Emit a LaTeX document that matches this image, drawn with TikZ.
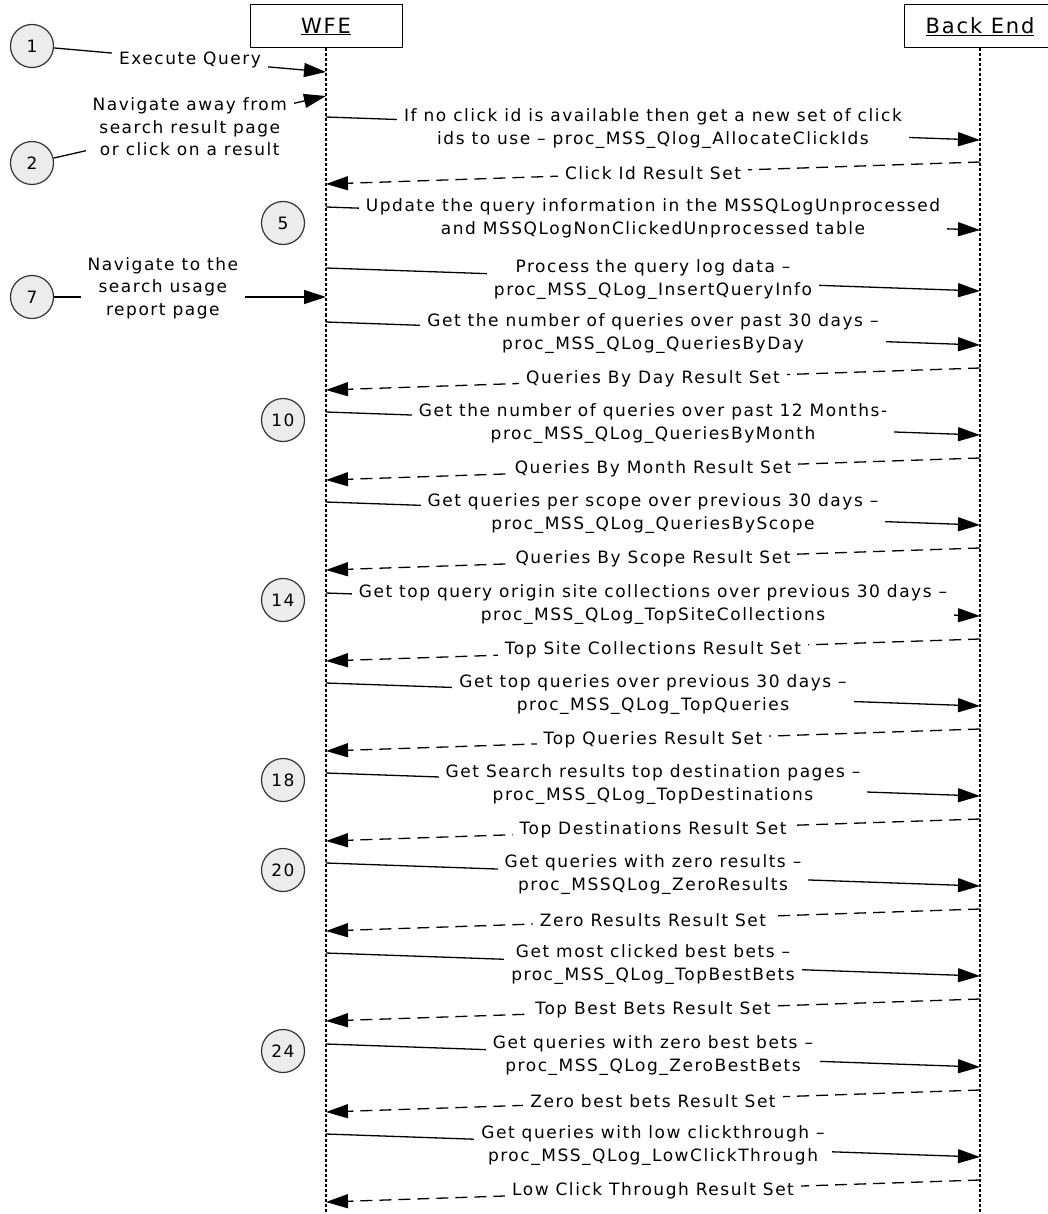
\documentclass[tikz,border=0pt]{standalone}
\usepackage{fontspec}
\newfontfamily\msgfont{DejaVu Sans}[LetterSpace=9]
\usetikzlibrary{arrows.meta}

% a call from the WFE lifeline to the Back End lifeline
\newcommand\callmsg[3]{%
  \coordinate (#1a) at (326,#2);
  \coordinate (#1b) at (980,#2+23);
  \draw[callline] (#1a) -- node[msglabel]{#3} (#1b);}
% a dashed result set returned to the WFE lifeline
\newcommand\retmsg[3]{%
  \coordinate (#1a) at (980,#2-10);
  \coordinate (#1b) at (326,#2+12);
  \draw[retline] (#1a) -- node[msglabel]{#3} (#1b);}

\begin{document}
\begin{tikzpicture}[x=1pt,y=-1pt,
  tip/.style={-{Triangle[length=22pt,width=14pt]}},
  callline/.style={line width=1.3pt,tip},
  retline/.style={line width=1.3pt,dash pattern=on 12pt off 7pt,tip},
  lifeline/.style={line width=1.1pt,dash pattern=on 3pt off 2pt},
  msglabel/.style={fill=white,align=center,inner xsep=7pt,inner ysep=2pt,
    font=\msgfont\fontsize{17}{22.5}\selectfont},
  actor/.style={draw,line width=1pt,minimum width=152pt,minimum height=43pt,
    inner sep=0pt,font=\msgfont\fontsize{21}{25}\selectfont},
  marker/.style={circle,draw=black!80,line width=1.2pt,fill=gray!15,minimum size=43pt,
    inner sep=0pt,font=\msgfont\fontsize{17}{20}\selectfont}]

\useasboundingbox[fill=white] (0,0) rectangle (1047,1214);

% participants and their lifelines
\node[actor] (wfe) at (326,26.5) {\underline{WFE}};
\node[actor] (be) at (980,26.5) {\underline{Back End}};
\coordinate (wfeend) at (326,1214);
\coordinate (beend) at (980,1214);
\draw[lifeline] (wfe.south) -- (wfeend);
\draw[lifeline] (be.south) -- (beend);

% user actions arriving at the WFE
\node[marker] (c1) at (32,46) {1};
\coordinate (e1) at (326,72);
\draw[callline] (c1) -- node[msglabel]{Execute Query} (e1);

\node[marker] (c2) at (32,163) {2};
\coordinate (e2) at (326,96);
\draw[callline] (c2) -- node[msglabel]{Navigate away from\\search result page\\or click on a result} (e2);

\node[marker] (c7) at (32,297) {7};
\coordinate (e7) at (326,297);
\draw[callline] (c7) -- node[msglabel,pos=0.4,yshift=9pt]{Navigate to the\\search usage\\report page} (e7);

% step markers
\node[marker] (c5) at (283,223) {5};
\node[marker] (c10) at (283,420) {10};
\node[marker] (c14) at (283,600) {14};
\node[marker] (c18) at (283,780) {18};
\node[marker] (c20) at (283,870) {20};
\node[marker] (c24) at (283,1051) {24};

% messages
\callmsg{m1}{117}{If no click id is available then get a new set of click\\ids to use – proc\_MSS\_Qlog\_AllocateClickIds}
\retmsg{r1}{172}{Click Id Result Set}
\callmsg{m2}{207}{Update the query information in the MSSQLogUnprocessed\\and MSSQLogNonClickedUnprocessed table}
\callmsg{m3}{268}{Process the query log data –\\proc\_MSS\_QLog\_InsertQueryInfo}

\callmsg{m4}{322}{Get the number of queries over past 30 days –\\proc\_MSS\_QLog\_QueriesByDay}
\retmsg{r4}{378}{Queries By Day Result Set}
\callmsg{m5}{412}{Get the number of queries over past 12 Months-\\proc\_MSS\_QLog\_QueriesByMonth}
\retmsg{r5}{468}{Queries By Month Result Set}
\callmsg{m6}{502}{Get queries per scope over previous 30 days –\\proc\_MSS\_QLog\_QueriesByScope}
\retmsg{r6}{558}{Queries By Scope Result Set}
\callmsg{m7}{593}{Get top query origin site collections over previous 30 days –\\proc\_MSS\_QLog\_TopSiteCollections}
\retmsg{r7}{649}{Top Site Collections Result Set}
\callmsg{m8}{683}{Get top queries over previous 30 days –\\proc\_MSS\_QLog\_TopQueries}
\retmsg{r8}{739}{Top Queries Result Set}
\callmsg{m9}{773}{Get Search results top destination pages –\\proc\_MSS\_QLog\_TopDestinations}
\retmsg{r9}{829}{Top Destinations Result Set}
\callmsg{m10}{863}{Get queries with zero results –\\proc\_MSSQLog\_ZeroResults}
\retmsg{r10}{919}{Zero Results Result Set}
\callmsg{m11}{953}{Get most clicked best bets –\\proc\_MSS\_QLog\_TopBestBets}
\retmsg{r11}{1009}{Top Best Bets Result Set}
\callmsg{m12}{1044}{Get queries with zero best bets –\\proc\_MSS\_QLog\_ZeroBestBets}
\retmsg{r12}{1100}{Zero best bets Result Set}
\callmsg{m13}{1134}{Get queries with low clickthrough –\\proc\_MSS\_QLog\_LowClickThrough}
\retmsg{r13}{1190}{Low Click Through Result Set}
\end{tikzpicture}
\end{document}
